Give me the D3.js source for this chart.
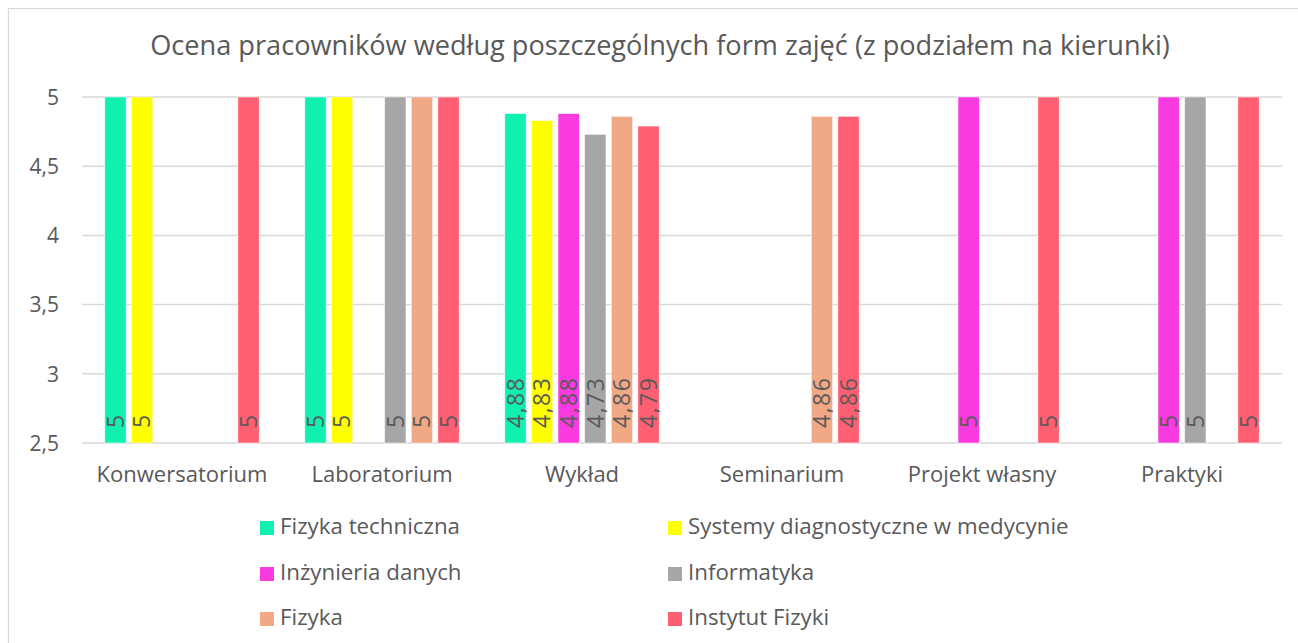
<!DOCTYPE html>
<html><head><meta charset="utf-8">
<script src="https://cdn.jsdelivr.net/npm/d3@7"></script>
<style>body{margin:0;background:#fff;} svg{display:block;} text{font-family:"Open Sans",sans-serif;fill:#595959;}</style>
</head><body>
<svg id="c" width="1298" height="643"></svg>
<script>
const categories = ["Konwersatorium","Laboratorium","Wykład","Seminarium","Projekt własny","Praktyki"];
const seriesNames = ["Fizyka techniczna","Systemy diagnostyczne w medycynie","Inżynieria danych","Informatyka","Fizyka","Instytut Fizyki"];
const seriesColors = ["#10F0B0","#FFFF00","#F83ADF","#A6A6A6","#F1A985","#FF5F73"];
const fizykaTechniczna = [5, 5, 4.88, null, null, null];
const systemyDiagnostyczne = [5, 5, 4.83, null, null, null];
const inzynieriaDanych = [null, null, 4.88, null, 5, 5];
const informatyka = [null, 5, 4.73, null, null, 5];
const fizyka = [null, 5, 4.86, 4.86, null, null];
const instytutFizyki = [5, 5, 4.79, 4.86, 5, 5];
const yTicks = [2.5, 3, 3.5, 4, 4.5, 5];
const title = "Ocena pracowników według poszczególnych form zajęć (z podziałem na kierunki)";

(function(){
const seriesValues = [fizykaTechniczna, systemyDiagnostyczne, inzynieriaDanych, informatyka, fizyka, instytutFizyki];
const svg = d3.select("#c");
const fmt = v => String(v).replace(".", ",");

svg.append("rect").attr("x",8.5).attr("y",8.5).attr("width",1300).attr("height",650)
  .attr("fill","none").attr("stroke","#d9d9d9").attr("stroke-width",1.2);

const pLeft = 82, pRight = 1282, pTop = 97, pBottom = 443;
const x0 = d3.scaleBand().domain(categories).range([pLeft, pRight]);
const x1 = d3.scaleBand().domain(d3.range(seriesNames.length)).range([22.8, 200-22.8]).paddingInner(0.2);
const y = d3.scaleLinear().domain([2.5, 5]).range([pBottom, pTop]);

svg.append("g").selectAll("line").data(yTicks).join("line")
  .attr("x1", pLeft).attr("x2", pRight).attr("y1", d=>y(d)).attr("y2", d=>y(d))
  .attr("stroke","#d9d9d9").attr("stroke-width",1.5);

const yAxis = d3.axisLeft(y).tickValues(yTicks).tickSize(0).tickPadding(0).tickFormat(fmt);
const ya = svg.append("g").attr("transform",`translate(59,0)`).call(yAxis);
ya.select(".domain").remove();
ya.selectAll("text").attr("font-size",21).attr("fill","#595959").style("font-family","'Open Sans',sans-serif").attr("dy","0.35em");

const xAxis = d3.axisBottom(x0).tickSize(0).tickPadding(0);
const xa = svg.append("g").attr("transform",`translate(0,${pBottom})`).call(xAxis);
xa.select(".domain").remove();
xa.selectAll("text").attr("font-size",22).attr("fill","#595959").style("font-family","'Open Sans',sans-serif").attr("y",39).attr("dy",0);

const groups = svg.append("g").selectAll("g").data(categories).join("g")
  .attr("transform", c => `translate(${x0(c)},0)`);
groups.each(function(c, ci){
  const g = d3.select(this);
  const data = seriesValues.map((arr, si) => ({si, v: arr[ci]})).filter(d => d.v != null);
  g.selectAll("rect").data(data).join("rect")
    .attr("x", d => x1(d.si)).attr("width", x1.bandwidth())
    .attr("y", d => y(d.v)).attr("height", d => y(2.5) - y(d.v))
    .attr("fill", d => seriesColors[d.si]).attr("stroke","#ffffff").attr("stroke-opacity",0.6).attr("stroke-width",0.8);
  g.selectAll("text.lbl").data(data).join("text").attr("class","lbl")
    .attr("transform", d => `translate(${x1(d.si) + x1.bandwidth()/2 + 8.2},${pBottom - 15}) rotate(-90)`)
    .attr("font-size",23).attr("letter-spacing",1.5).attr("fill","#404040").attr("text-anchor","start")
    .text(d => fmt(d.v));
});

const t = svg.append("text").attr("x", 660).attr("y", 55).attr("text-anchor","middle")
  .attr("font-size",25).text(title);
const tw = t.node().getComputedTextLength();
t.attr("font-size", 25 * 1020 / tw);

const legendCols = [260, 668];
const legendRows = [534, 580, 625];
const lg = svg.append("g").selectAll("g").data(seriesNames).join("g")
  .attr("transform", (d,i) => `translate(${legendCols[i%2]},${legendRows[Math.floor(i/2)]})`);
lg.append("rect").attr("x",0).attr("y",-13).attr("width",14).attr("height",14).attr("fill",(d,i)=>seriesColors[i]);
lg.append("text").attr("x",20).attr("y",0).attr("font-size",22.3).text(d=>d);
})();
</script>
</body></html>
